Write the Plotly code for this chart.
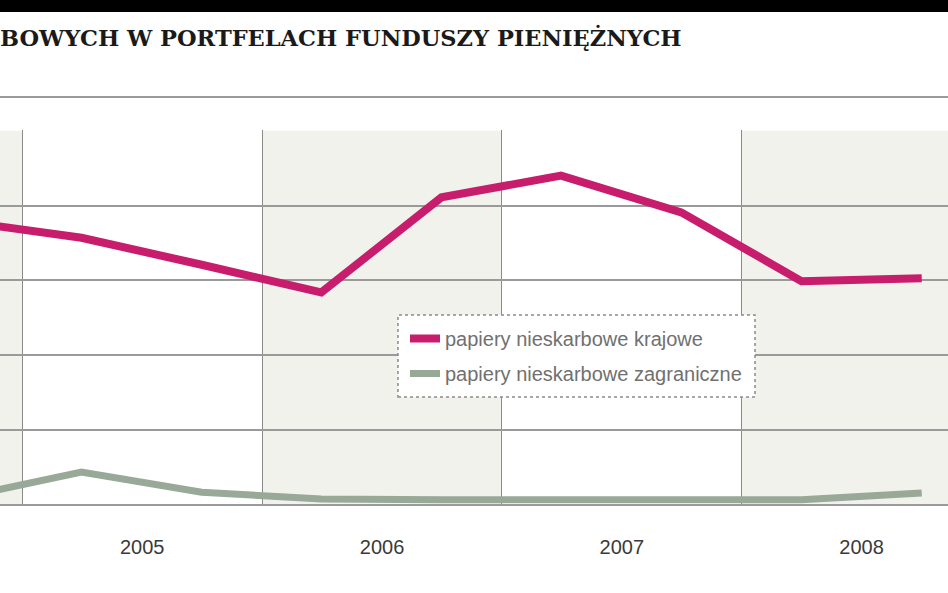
import plotly.graph_objects as go

# półrocza (środek półrocza), udział w portfelach [%]
okresy = ['2004-10-01', '2005-04-01', '2005-10-01', '2006-04-01', '2006-10-01',
          '2007-04-01', '2007-10-01', '2008-04-01', '2008-10-01']
krajowe = [37.9, 35.7, 32.1, 28.4, 41.1, 44.0, 39.1, 29.9, 30.3]
zagraniczne = [1.0, 4.4, 1.7, 0.8, 0.7, 0.7, 0.7, 0.7, 1.6]

lata = ['2005', '2006', '2007', '2008']
lata_cieniowane = ['2004', '2006', '2008']

fig = go.Figure()

fig.add_trace(go.Scatter(
    x=okresy, y=krajowe, mode='lines',
    name='papiery nieskarbowe krajowe',
    legendgroup='a',
    line=dict(color='#c71d6c', width=8),
))
fig.add_trace(go.Scatter(
    x=okresy, y=zagraniczne, mode='lines',
    name='papiery nieskarbowe zagraniczne',
    legendgroup='b',
    line=dict(color='#98a998', width=7),
))

shapes = []
# cieniowanie co drugiego roku
for rok in lata_cieniowane:
    shapes.append(dict(type='rect', xref='x', yref='y',
                       x0=f'{rok}-01-01', x1=f'{int(rok) + 1}-01-01', y0=0, y1=50,
                       fillcolor='#f2f2ed', line=dict(width=0), layer='below'))
# czarny pasek u góry
shapes.append(dict(type='rect', xref='paper', yref='paper',
                   x0=0, x1=1, y0=1.3147, y1=1.4,
                   fillcolor='black', line=dict(width=0)))
# szara linia pod tytułem
shapes.append(dict(type='line', xref='paper', yref='paper',
                   x0=0, x1=1, y0=1.088, y1=1.088,
                   line=dict(color='#9a9a9a', width=2)))
# ramka legendy
shapes.append(dict(type='rect', xref='paper', yref='paper',
                   x0=0.4198, x1=0.7964, y0=0.288, y1=0.5067,
                   fillcolor='white', line=dict(color='#8a8a8a', width=1.5, dash='dot'),
                   layer='above'))

fig.update_layout(
    width=948, height=593,
    margin=dict(l=0, r=0, t=130, b=88, autoexpand=False),
    paper_bgcolor='white',
    plot_bgcolor='white',
    title=dict(text='<b>BOWYCH W PORTFELACH FUNDUSZY PIENIĘŻNYCH</b>',
               font=dict(family='DejaVu Serif', size=22.5, color='#1a1a1a'),
               xref='container', x=0, xanchor='left',
               yref='container', y=1 - 38 / 593, yanchor='middle'),
    shapes=shapes,
    showlegend=True,
    legend=dict(x=0.4272, y=0.496, xanchor='left', yanchor='top',
                bgcolor='rgba(0,0,0,0)', borderwidth=0,
                tracegroupgap=6,
                font=dict(family='Liberation Sans', size=20, color='#707070')),
)

fig.update_xaxes(
    type='date',
    range=['2004-11-28', '2008-11-10'],
    tick0='2005-01-01', dtick='M12',
    ticklabelmode='period',
    tickformat='%Y',
    ticks='',
    ticklabelstandoff=28,
    showgrid=True, gridcolor='#8a8a8a', gridwidth=1,
    showline=False, zeroline=False,
    tickfont=dict(family='Liberation Sans', size=20, color='#3a3a3a'),
)
fig.update_yaxes(
    range=[0, 50.1], dtick=10,
    showticklabels=False,
    showgrid=True, gridcolor='#9a9a9a', gridwidth=2,
    zeroline=True, zerolinecolor='#9a9a9a', zerolinewidth=2,
    showline=False,
)

fig.write_html('out.html', config={'displayModeBar': False},
               post_script="document.body.style.margin='0';")
